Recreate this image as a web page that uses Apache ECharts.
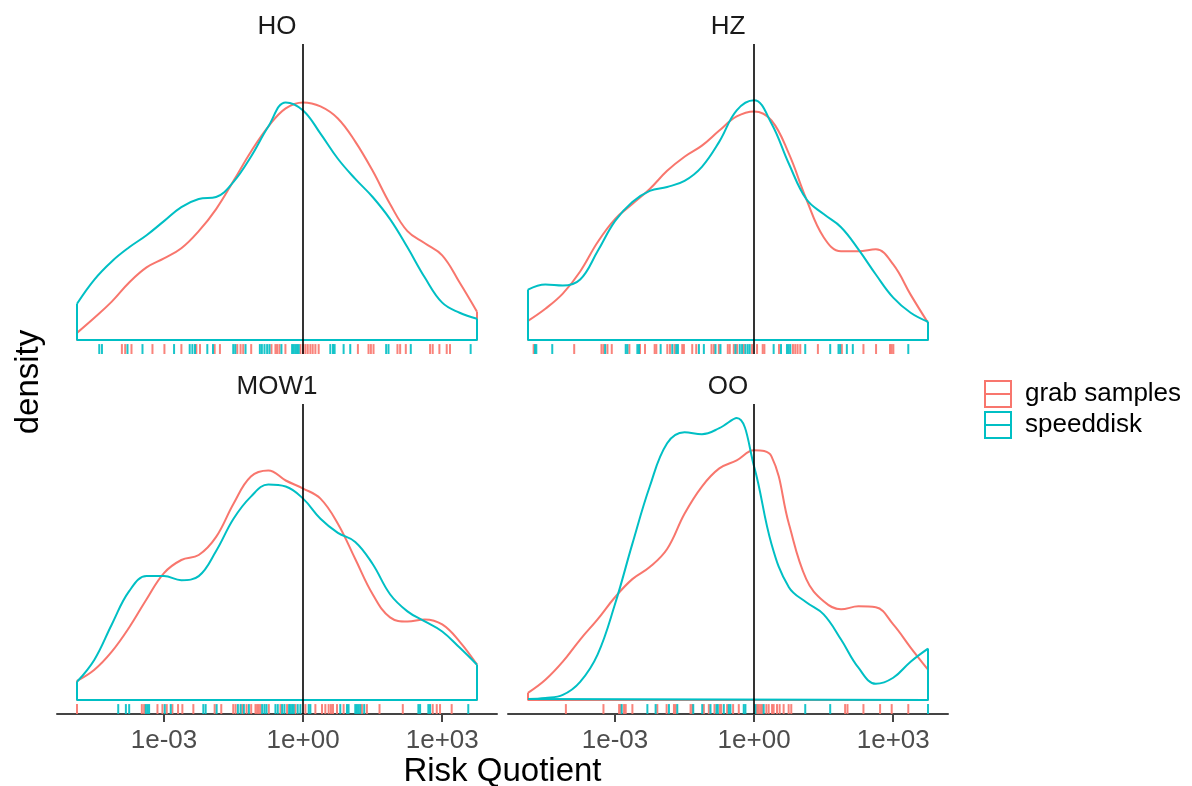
<!DOCTYPE html>
<html><head><meta charset="utf-8">
<script src="https://cdn.jsdelivr.net/npm/echarts@6/dist/echarts.min.js"></script>
<style>html,body{margin:0;padding:0;background:#fff}#c{width:1192px;height:786px}</style>
</head><body><div id="c"></div>
<script>
// ---- data (x in log10 units of Risk Quotient) ----
const panels = ["HO", "HZ", "MOW1", "OO"];
const groups = ["grab samples", "speeddisk"];
const xGrid = [-4.875,-4.5,-4.125,-3.75,-3.375,-3.0,-2.625,-2.25,-1.875,-1.5,-1.125,-0.75,-0.375,0,0.375,0.75,1.125,1.5,1.875,2.25,2.625,3.0,3.375,3.75];

const HO_grab  = [0.007,0.022,0.038,0.057,0.072,0.081,0.091,0.108,0.130,0.158,0.187,0.212,0.230,0.236,0.232,0.220,0.197,0.168,0.135,0.108,0.096,0.084,0.057,0.028];
const HO_speed = [0.036,0.060,0.078,0.092,0.104,0.118,0.132,0.140,0.142,0.157,0.182,0.212,0.236,0.228,0.205,0.180,0.160,0.142,0.120,0.092,0.062,0.037,0.027,0.021];
const HZ_grab  = [0.019,0.031,0.046,0.068,0.097,0.120,0.135,0.150,0.168,0.182,0.193,0.208,0.222,0.227,0.218,0.185,0.140,0.102,0.088,0.088,0.090,0.075,0.045,0.017];
const HZ_speed = [0.050,0.055,0.054,0.060,0.088,0.118,0.137,0.148,0.152,0.158,0.172,0.197,0.228,0.238,0.215,0.175,0.140,0.125,0.112,0.090,0.065,0.042,0.027,0.018];
const MOW1_grab  = [0.019,0.030,0.048,0.072,0.100,0.126,0.139,0.144,0.162,0.195,0.222,0.228,0.218,0.210,0.200,0.175,0.140,0.105,0.082,0.078,0.080,0.075,0.058,0.035];
const MOW1_speed = [0.018,0.040,0.075,0.108,0.123,0.123,0.119,0.123,0.148,0.180,0.202,0.214,0.212,0.200,0.180,0.166,0.157,0.135,0.105,0.088,0.078,0.068,0.052,0.035];
const OO_grab  = [0.007,0.020,0.038,0.060,0.080,0.102,0.120,0.132,0.150,0.185,0.212,0.230,0.238,0.248,0.242,0.175,0.120,0.098,0.090,0.093,0.092,0.075,0.052,0.030];
const OO_speed = [0.001,0.002,0.005,0.018,0.045,0.095,0.155,0.212,0.255,0.266,0.264,0.270,0.280,0.232,0.155,0.112,0.097,0.085,0.060,0.032,0.016,0.022,0.038,0.051];

const HO_rug_grab  = [-3.907,-3.836,-3.70,-3.248,-2.990,-2.624,-2.302,-2.223,-1.907,-1.793,-1.420,-1.348,-1.291,-1.119,-0.682,-0.596,-0.560,-0.510,-0.381,-0.058,0.0,0.050,0.100,0.157,0.207,0.265,0.336,1.182,1.411,1.462,1.519,2.035,2.093,2.215,2.738,2.795,2.939,3.097,3.168];
const HO_rug_speed = [-4.395,-4.337,-3.786,-3.463,-2.782,-2.445,-2.387,-2.331,-2.065,-1.943,-1.506,-1.463,-1.241,-0.932,-0.889,-0.832,-0.775,-0.725,-0.467,-0.237,-0.201,-0.166,-0.130,-0.094,0.587,0.645,0.680,0.874,1.017,1.791,1.842,2.322,3.613];
const HZ_rug_grab  = [-4.753,-3.879,-3.291,-3.248,-3.162,-3.069,-2.689,-2.460,-2.352,-2.144,-2.108,-1.871,-1.814,-1.714,-1.549,-1.513,-1.334,-1.248,-0.918,-0.868,-0.760,-0.567,-0.524,-0.438,-0.366,-0.223,-0.044,0.064,0.186,0.222,0.537,0.838,0.888,0.938,0.996,1.376,1.892,2.358,2.630,2.931,2.967,3.003];
const HZ_rug_speed = [-4.725,-4.696,-4.352,-3.212,-2.768,-2.732,-2.517,-2.481,-2.015,-1.764,-1.678,-1.642,-1.190,-1.083,-0.832,-0.725,-0.402,-0.309,-0.259,-0.187,-0.137,-0.094,0.422,0.580,0.709,0.745,0.781,1.103,1.641,1.820,1.856,2.0,2.129,3.325];
const MOW1_rug_grab  = [-4.875,-3.477,-3.427,-3.140,-3.033,-2.940,-2.818,-2.696,-2.603,-2.366,-1.907,-1.764,-1.506,-1.456,-1.312,-1.219,-1.119,-1.026,-0.990,-0.954,-0.918,-0.739,-0.488,-0.345,-0.166,0.050,0.265,0.408,0.480,0.551,0.601,0.645,0.731,0.874,1.269,1.376,1.648,2.150,2.795,2.882,2.953,3.204];
const MOW1_rug_speed = [-3.986,-3.821,-3.750,-3.391,-3.355,-3.320,-2.983,-2.854,-2.151,-2.101,-1.864,-1.406,-1.348,-1.277,-1.169,-0.882,-0.832,-0.789,-0.596,-0.546,-0.452,-0.402,-0.302,-0.273,-0.237,-0.201,-0.116,-0.058,0.121,0.157,0.802,0.946,0.981,1.125,1.161,1.197,1.232,1.318,2.486,2.523,2.701,2.738,3.562];
const OO_rug_grab  = [-4.058,-3.248,-2.911,-2.875,-2.804,-2.768,-2.624,-2.087,-1.886,-1.728,-1.692,-1.370,-1.334,-1.083,-0.976,-0.854,-0.739,-0.710,-0.581,-0.452,-0.330,0.064,0.100,0.136,0.171,0.265,0.315,0.387,0.422,0.494,0.551,0.637,0.745,0.802,1.963,2.014,2.358,2.717,2.967,3.325];
const OO_rug_speed = [-2.854,-2.301,-2.123,-1.836,-1.656,-1.312,-1.118,-0.940,-0.811,-0.782,-0.653,-0.545,-0.510,-0.223,-0.187,0.028,0.207,1.103,1.641,3.75];

const tickValues = [-3, 0, 3];
const tickLabels = ["1e-03", "1e+00", "1e+03"];
const refLineX = 0;   // 1e+00

// ---- build ----
const colors = ["#F8766D", "#00BFC4"];
const FONT = '"Liberation Sans", Arial, sans-serif';
const dens = { HO: [HO_grab, HO_speed], HZ: [HZ_grab, HZ_speed], MOW1: [MOW1_grab, MOW1_speed], OO: [OO_grab, OO_speed] };
const rugs = { HO: [HO_rug_grab, HO_rug_speed], HZ: [HZ_rug_grab, HZ_rug_speed], MOW1: [MOW1_rug_grab, MOW1_rug_speed], OO: [OO_rug_grab, OO_rug_speed] };

const xMin0 = xGrid[0], xMax0 = xGrid[xGrid.length - 1];
const xPad = 0.05 * (xMax0 - xMin0);
const xMin = xMin0 - xPad, xMax = xMax0 + xPad;
let M = 0;
panels.forEach(p => dens[p].forEach(a => a.forEach(v => { if (v > M) M = v; })));
const yMin = -0.05 * M, yMax = 1.05 * M;

const gridPos = [
  { left: 57, top: 44, width: 440, height: 310 },
  { left: 508, top: 44, width: 440, height: 310 },
  { left: 57, top: 404, width: 440, height: 310 },
  { left: 508, top: 404, width: 440, height: 310 }
];

const grids = [], xAxes = [], yAxes = [], series = [], graphics = [];
panels.forEach((p, i) => {
  grids.push(gridPos[i]);
  const bottomRow = i >= 2;
  xAxes.push({
    type: 'value', gridIndex: i, min: xMin, max: xMax,
    axisLine: { show: bottomRow, onZero: false, lineStyle: { color: '#444', width: 2 } },
    axisTick: { show: bottomRow, customValues: tickValues, length: 8, lineStyle: { color: '#444', width: 2 } },
    axisLabel: { show: bottomRow, customValues: tickValues, margin: 14, fontSize: 26, color: '#4D4D4D',
      fontFamily: FONT,
      formatter: v => tickLabels[tickValues.indexOf(v)] ?? '' },
    splitLine: { show: false }
  });
  yAxes.push({ type: 'value', gridIndex: i, min: yMin, max: yMax, show: false, splitLine: { show: false } });

  groups.forEach((g, k) => {
    const d = dens[p][k];
    series.push({
      name: g, type: 'line', xAxisIndex: i, yAxisIndex: i, smooth: 0.4, showSymbol: false, silent: true,
      data: xGrid.map((x, j) => [x, d[j]]),
      lineStyle: { color: colors[k], width: 2 }, itemStyle: { color: colors[k] }, z: 2
    });
    series.push({
      name: g, type: 'line', xAxisIndex: i, yAxisIndex: i, smooth: false, showSymbol: false, silent: true,
      data: [[xMin0, d[0]], [xMin0, 0], [xMax0, 0], [xMax0, d[d.length - 1]]],
      lineStyle: { color: colors[k], width: 2 }, itemStyle: { color: colors[k] }, z: 2
    });
  });
  groups.forEach((g, k) => {
    series.push({
      name: g, type: 'custom', xAxisIndex: i, yAxisIndex: i, silent: true, z: 3,
      itemStyle: { color: colors[k] },
      data: rugs[p][k].map(x => [x, yMin]),
      encode: { x: 0, y: 1 },
      renderItem: (params, api) => {
        const a = api.coord([api.value(0), yMin]);
        const b = api.coord([api.value(0), yMin + 0.032 * (yMax - yMin)]);
        return { type: 'line', shape: { x1: a[0], y1: a[1], x2: b[0], y2: b[1] },
          style: { stroke: colors[k], lineWidth: 2, opacity: 0.9 } };
      }
    });
  });
  // reference line at 1e+00
  series.push({
    type: 'line', xAxisIndex: i, yAxisIndex: i, data: [], silent: true, z: 5,
    markLine: { silent: true, symbol: ['none', 'none'], label: { show: false },
      lineStyle: { color: '#000', width: 1.6, type: 'solid' },
      emphasis: { disabled: true },
      data: [{ xAxis: refLineX }] }
  });
  const g = gridPos[i];
  graphics.push({ type: 'text', x: g.left + g.width / 2, y: g.top - 17,
    style: { text: p, textAlign: 'center', textVerticalAlign: 'middle', fill: '#1A1A1A',
      font: '26px ' + FONT } });
});

graphics.push({ type: 'text', x: 502.5, y: 772,
  style: { text: 'Risk Quotient', textAlign: 'center', textVerticalAlign: 'middle', fill: '#000',
    font: '33px ' + FONT } });
graphics.push({ type: 'text', x: 29, y: 382, rotation: Math.PI / 2,
  style: { text: 'density', textAlign: 'center', textVerticalAlign: 'middle', fill: '#000',
    font: '33px ' + FONT } });

const chart = echarts.init(document.getElementById('c'), null, { renderer: 'canvas' });
chart.setOption({
  animation: false,
  backgroundColor: '#fff',
  grid: grids, xAxis: xAxes, yAxis: yAxes, series: series,
  graphic: graphics,
  legend: {
    orient: 'vertical', left: 979, top: 375, itemWidth: 26, itemHeight: 26, itemGap: 3,
    selectedMode: false,
    icon: 'path://M0,0L26,0L26,26L0,26Z M0,13L26,13',
    data: groups.map((g, k) => ({ name: g, itemStyle: { color: 'rgba(0,0,0,0)', borderColor: colors[k], borderWidth: 2 } })),
    textStyle: { fontSize: 26, color: '#000', fontFamily: FONT, padding: [0, 0, 0, 9] }
  }
});
</script></body></html>
